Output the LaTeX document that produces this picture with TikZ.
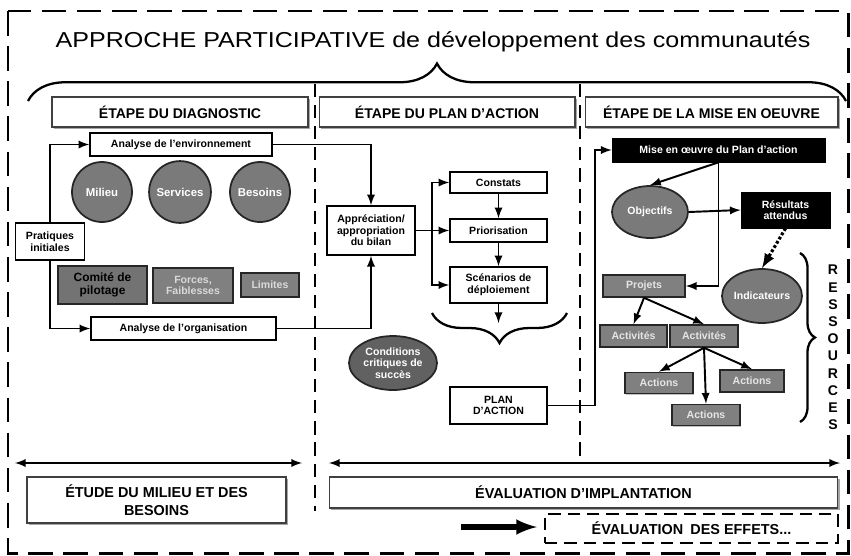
\documentclass[tikz,border=0pt]{standalone}
\usepackage{fontspec}
\setmainfont{Liberation Sans}
\newfontfamily\titrefont{Liberation Sans}[FakeStretch=1.16]
\usepackage{tikz}
\usetikzlibrary{shapes.geometric, arrows, shadows, decorations.pathreplacing}
\newcommand{\mini}{\fontsize{6}{6.6}\selectfont\bfseries}
\newcommand{\moyen}{\fontsize{8}{9.6}\selectfont\bfseries}

\begin{document}
\begin{tikzpicture}
  [
    x=0.02cm, y=-0.02cm,
    entete/.style = {draw=black!75, fill=white, line width=0.6pt, minimum height=0.6cm, minimum width=5.12cm, font=\moyen, drop shadow={shadow xshift=1.3pt, shadow yshift=-1.3pt, fill=black!50, opacity=0.7}},
    boite/.style = {draw, fill=white, line width=0.9pt, font=\mini, align=center, inner sep=1pt},
    grise/.style = {draw=black!85, fill=black!50, text=white, line width=0.9pt, font=\mini, align=center, inner sep=1pt, drop shadow={shadow xshift=0.8pt, shadow yshift=-0.8pt, fill=black!40, opacity=0.6}},
    noire/.style = {draw, fill=black, text=white, font=\mini, align=center, inner sep=1pt},
    rond/.style = {circle, draw=black!85, fill=black!52, text=white, line width=1pt, minimum size=1.2cm, font=\fontsize{6.5}{7}\selectfont\bfseries},
    ovale/.style = {ellipse, draw=black!85, fill=black!52, text=white, line width=1pt, font=\mini, align=center, inner sep=0pt},
    fleche/.style = {-latex, line width=1.1pt},
    trait/.style = {line width=1.1pt},
    etendue/.style = {latex-latex, line width=1.1pt},
    cadre/.style = {line width=1.7pt, dash pattern=on 14pt off 6pt},
    separe/.style = {line width=1.5pt, dash pattern=on 7.5pt off 4.5pt},
    accolade/.style = {decorate, line width=1.3pt},
  ]

  \useasboundingbox (0,0) rectangle (851,555);
  \draw[cadre] (8,11) rectangle (848,553);

  % titre et accolade
  \node[font=\titrefont\fontsize{12.3}{14}\selectfont] (titre) at (433,42) {APPROCHE PARTICIPATIVE de développement des communautés};
  \draw[accolade, decoration={brace, amplitude=0.75cm}] (28,101) -- (846,101);

  % separateurs
  \draw[separe] (315,84) -- (315,511);
  \draw[separe] (580,84) -- (580,458);

  % entetes
  \node[entete] (hdiag) at (180,112)   {ÉTAPE DU DIAGNOSTIC};
  \node[entete] (hplan) at (447,112)   {ÉTAPE DU PLAN D'ACTION};
  \node[entete, minimum width=5.06cm] (hmise) at (711.5,112) {ÉTAPE DE LA MISE EN OEUVRE};

  % etape du diagnostic
  \node[boite, minimum width=3.64cm, minimum height=0.46cm] (env) at (181,144.5) {Analyse de l'environnement};
  \node[rond] (milieu)   at (102,192) {Milieu};
  \node[rond] (services) at (180,192) {Services};
  \node[rond] (besoins)  at (260,192) {Besoins};
  \node[boite, minimum width=1.38cm, minimum height=0.74cm] (prat) at (50,241.5) {Pratiques\\initiales};
  \node[grise, text=black, fill=black!55, line width=1.4pt, minimum width=1.78cm, minimum height=0.76cm, font=\fontsize{6.8}{7.6}\selectfont\bfseries] (comite) at (102.5,285) {Comité de\\pilotage};
  \node[grise, text=black!15, minimum width=1.6cm, minimum height=0.7cm] (forces) at (193,285.5) {Forces,\\Faiblesses};
  \node[grise, text=black!15, minimum width=1.16cm, minimum height=0.48cm] (limites) at (270,285) {Limites};
  \node[boite, minimum width=3.7cm, minimum height=0.46cm] (org) at (183.5,328.5) {Analyse de l'organisation};

  % etape du plan d'action
  \node[boite, minimum width=1.76cm, minimum height=0.98cm] (appr) at (371,230.5) {Appréciation/\\appropriation\\du bilan};
  \node[boite, minimum width=1.94cm, minimum height=0.42cm] (constats) at (498.5,182.5) {Constats};
  \node[boite, minimum width=1.94cm, minimum height=0.46cm] (prior) at (498.5,230.5) {Priorisation};
  \node[boite, minimum width=1.94cm, minimum height=0.72cm] (scen) at (498.5,285) {Scénarios de\\déploiement};
  \node[ovale, fill=black!62, minimum width=1.76cm, minimum height=1.08cm] (cond) at (393,363) {Conditions\\critiques de\\succès};
  \node[boite, minimum width=1.94cm, minimum height=0.74cm] (plan) at (498.5,405.5) {PLAN\\D'ACTION};
  \coordinate (split) at (432,230.5);
  \coordinate (bas) at (498.5,323);
  \draw[accolade, decoration={brace, mirror, amplitude=0.6cm}] (432,313) -- (567,313);

  % etape de la mise en oeuvre
  \node[noire, minimum width=4.26cm, minimum height=0.48cm] (mise) at (718.5,150) {Mise en œuvre du Plan d'action};
  \node[ovale, minimum width=1.52cm, minimum height=1.04cm] (obj) at (650,212) {Objectifs};
  \node[noire, minimum width=1.78cm, minimum height=0.72cm] (res) at (785.5,210) {Résultats\\attendus};
  \node[ovale, minimum width=1.6cm, minimum height=1.08cm] (ind) at (762,296) {Indicateurs};
  \node[grise, text=black!10, minimum width=1.64cm, minimum height=0.44cm] (proj) at (644,286) {Projets};
  \node[grise, text=black!10, minimum width=1.34cm, minimum height=0.44cm] (act1) at (633.5,336) {Activités};
  \node[grise, text=black!10, minimum width=1.36cm, minimum height=0.44cm] (act2) at (704,336) {Activités};
  \node[grise, text=black!10, minimum width=1.36cm, minimum height=0.42cm] (acn1) at (659,383) {Actions};
  \node[grise, text=black!10, minimum width=1.28cm, minimum height=0.44cm] (acn2) at (752,381) {Actions};
  \node[grise, text=black!10, minimum width=1.36cm, minimum height=0.42cm] (acn3) at (706,415) {Actions};
  \coordinate (coude) at (595,405.5);
  \draw[accolade, decoration={brace, amplitude=0.3cm}] (800,253) -- (800,422);
  \node[font=\fontsize{8}{9.8}\selectfont\bfseries, align=center] (ress) at (833,347.5) {R\\E\\S\\S\\O\\U\\R\\C\\E\\S};

  % bas
  \coordinate (g1) at (15,463);
  \coordinate (g2) at (302,463);
  \coordinate (d1) at (329,463);
  \coordinate (d2) at (840,463);
  \node[entete, minimum width=5.18cm, minimum height=0.92cm, align=center, font=\fontsize{8.2}{10}\selectfont\bfseries] (etude) at (156.5,500) {ÉTUDE DU MILIEU ET DES\\BESOINS};
  \node[entete, minimum width=10.18cm, minimum height=0.62cm, font=\fontsize{8.2}{10}\selectfont\bfseries] (impl) at (583.5,492.5) {ÉVALUATION D'IMPLANTATION};
  \node[draw, line width=1.4pt, dash pattern=on 7pt off 4pt, minimum width=5.86cm, minimum height=0.58cm, font=\fontsize{8.2}{10}\selectfont\bfseries] (effets) at (691.5,528.5) {ÉVALUATION\enspace DES EFFETS...};
  \coordinate (f1) at (461,527);
  \coordinate (f2) at (537,527);

  % connecteurs
  \draw[fleche] (prat.north) |- (env.west);
  \draw[fleche] (prat.south) |- (org.west);
  \draw[fleche] (env.east) -| (appr.north);
  \draw[fleche] (org.east) -| (appr.south);
  \draw[trait] (appr.east) -- (split);
  \draw[fleche] (split) |- (constats.west);
  \draw[fleche] (split) -- (prior.west);
  \draw[fleche] (split) |- (scen.west);
  \draw[fleche] (constats) -- (prior);
  \draw[fleche] (prior) -- (scen);
  \draw[fleche] (scen.south) -- (bas);

  \draw[fleche] (plan.east) -- (coude) |- (mise.west);
  \draw[fleche] (mise.south) -- (obj.north);
  \draw[fleche] (mise.south) |- (proj.east);
  \draw[fleche] (obj.east) -- (res.west);
  \draw[-latex, line width=1.8pt, dash pattern=on 1.6pt off 1.2pt] (res.south) -- (ind.north);
  \draw[fleche] (proj.south) -- (act1.north);
  \draw[fleche] (proj.south) -- (act2.north);
  \draw[fleche] (act2.south) -- (acn1.north);
  \draw[fleche] (act2.south) -- (acn3.north);
  \draw[fleche] (act2.south) -- (acn2.north);

  \draw[etendue] (g1) -- (g2);
  \draw[etendue] (d1) -- (d2);
  \draw[-latex, line width=3pt] (f1) -- (f2);
\end{tikzpicture}
\end{document}
